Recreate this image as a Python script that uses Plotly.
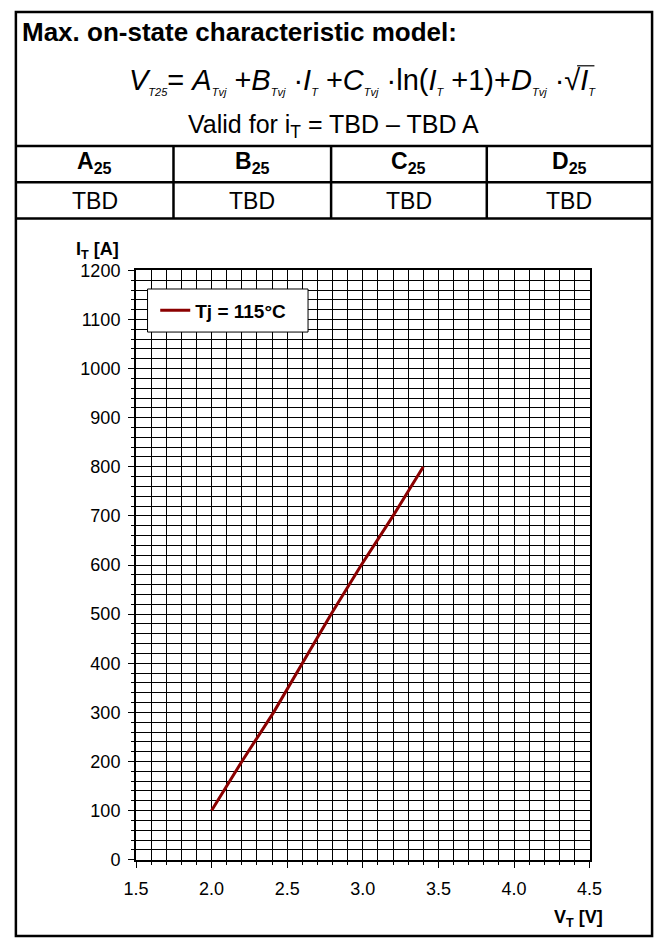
import plotly.graph_objects as go

W, H = 667, 948

# curve (Tj = 115 C)
i_t = [100, 200, 300, 400, 500, 600, 700, 800]
v_t = [2.00, 2.20, 2.41, 2.60, 2.79, 2.99, 3.20, 3.40]

coef_names = ["A", "B", "C", "D"]
coef_values = ["TBD", "TBD", "TBD", "TBD"]

x_ticks = [1.5, 2.0, 2.5, 3.0, 3.5, 4.0, 4.5]
y_ticks = list(range(0, 1300, 100))

FONT = "Arial, Liberation Sans, sans-serif"


def px(x):
    return x / W


def py(y):
    return 1 - y / H


fig = go.Figure()

fig.add_trace(go.Scatter(
    x=v_t, y=i_t, mode="lines", name="<b>Tj = 115°C</b>",
    line=dict(color="#8b0000", width=3),
))

# frame + table lines
shapes = []
lw = 2.5
def hline(y, x0=3, x1=665):
    shapes.append(dict(type="line", xref="paper", yref="paper",
                       x0=px(x0), x1=px(x1), y0=py(y), y1=py(y),
                       line=dict(color="black", width=lw)))
def vline(x, y0, y1):
    shapes.append(dict(type="line", xref="paper", yref="paper",
                       x0=px(x), x1=px(x), y0=py(y0), y1=py(y1),
                       line=dict(color="black", width=lw)))

shapes.append(dict(type="rect", xref="paper", yref="paper",
                   x0=px(3), x1=px(665), y0=py(946), y1=py(2),
                   line=dict(color="black", width=lw)))
hline(139)
hline(176)
hline(213)
for xc in [167, 331, 493]:
    vline(xc, 139, 213)
# legend box
shapes.append(dict(type="rect", xref="paper", yref="paper", layer="above",
                   x0=px(140), x1=px(307), y0=py(329), y1=py(285),
                   fillcolor="white", line=dict(color="black", width=1)))
# bar of the square root sign
shapes.append(dict(type="line", xref="paper", yref="paper",
                   x0=px(587), x1=px(605), y0=py(57), y1=py(57),
                   line=dict(color="black", width=1.2)))

ann = []
ann.append(dict(text="<b>Max. on-state characteristic model:</b>", x=px(7), y=py(22),
                xanchor="left", yanchor="middle", font=dict(size=26)))
sub = "<sub><span style='font-size:11px'>%s</span></sub>"
formula = ("<i>V" + sub % "T25" + "</i>= <i>A" + sub % "Tvj" + "</i> +<i>B" + sub % "Tvj"
           + "</i> ·<i>I" + sub % "T" + "</i> +<i>C" + sub % "Tvj" + "</i> ·ln(<i>I" + sub % "T"
           + "</i> +1)+<i>D" + sub % "Tvj" + "</i> ·√<i>I" + sub % "T" + "</i>")
ann.append(dict(text=formula, x=px(364), y=py(73), xanchor="center", yanchor="middle",
                font=dict(size=29)))
ann.append(dict(text="Valid for i<sub>T</sub> = TBD – TBD A", x=px(334), y=py(118),
                xanchor="center", yanchor="middle", font=dict(size=25)))

col_centers = [85, 249, 412, 579]
for c, n, v in zip(col_centers, coef_names, coef_values):
    ann.append(dict(text="<b>%s<sub>25</sub></b>" % n, x=px(c), y=py(156),
                    xanchor="center", yanchor="middle", font=dict(size=23)))
    ann.append(dict(text=v, x=px(c), y=py(195),
                    xanchor="center", yanchor="middle", font=dict(size=23)))

ann.append(dict(text="<b>I<sub>T</sub> [A]</b>", x=px(63), y=py(246), xanchor="left",
                yanchor="middle", font=dict(size=18)))
ann.append(dict(text="<b>V<sub>T</sub> [V]</b>", x=px(561), y=py(928), xanchor="left",
                yanchor="middle", font=dict(size=18)))
for a in ann:
    a.update(xref="paper", yref="paper", showarrow=False)

fig.update_layout(
    width=W, height=H,
    margin=dict(l=0, r=0, t=0, b=0),
    paper_bgcolor="white", plot_bgcolor="white",
    font=dict(family=FONT, color="black", size=18),
    shapes=shapes, annotations=ann,
    showlegend=True,
    legend=dict(x=px(148), y=py(307), xanchor="left", yanchor="middle",
                bgcolor="rgba(0,0,0,0)", borderwidth=0,
                font=dict(size=19), itemwidth=30),
)

fig.update_xaxes(
    domain=[px(128), px(600)], range=[1.5, 4.5],
    tickvals=x_ticks, ticktext=["%.1f" % v for v in x_ticks],
    ticks="outside", ticklen=6, tickcolor="black", tickwidth=1,
    showline=True, linecolor="black", linewidth=2, mirror=True,
    showgrid=True, gridcolor="black", gridwidth=1, zeroline=False,
    ticklabelstandoff=6,
    minor=dict(dtick=0.1, tick0=1.5, showgrid=True, gridcolor="black", gridwidth=1,
               ticks="outside", ticklen=3, tickcolor="black"),
)
fig.update_yaxes(
    domain=[py(868), py(266)], range=[0, 1200],
    tickvals=y_ticks,
    ticks="outside", ticklen=6, tickcolor="black", tickwidth=1,
    showline=True, linecolor="black", linewidth=2, mirror=True,
    showgrid=True, gridcolor="black", gridwidth=1, zeroline=False,
    ticklabelstandoff=4,
    minor=dict(dtick=20, tick0=0, showgrid=True, gridcolor="black", gridwidth=1,
               ticks="outside", ticklen=3, tickcolor="black"),
)

fig.write_html(
    "out.html",
    config={"displayModeBar": False},
    post_script="var d=document.getElementById('{plot_id}');"
                "d.style.position='absolute';d.style.left='0px';d.style.top='0px';"
                "document.body.style.margin='0';document.body.style.overflow='hidden';",
)
